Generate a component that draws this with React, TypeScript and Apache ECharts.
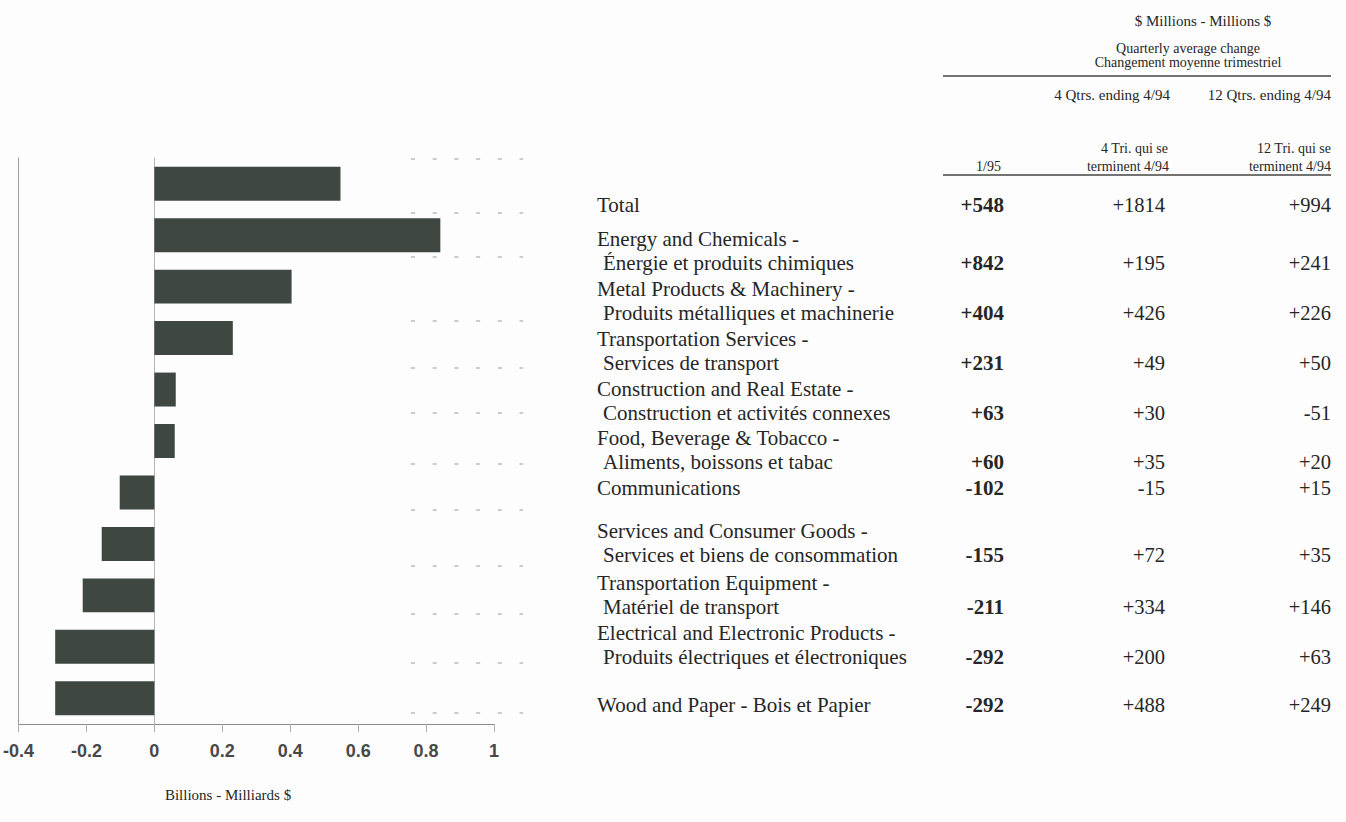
import React, { useEffect, useRef } from "react";
import * as echarts from "echarts";

// ---- Data ----
const labelLine1 = [
  "Total",
  "Energy and Chemicals -",
  "Metal Products & Machinery -",
  "Transportation Services -",
  "Construction and Real Estate -",
  "Food, Beverage & Tobacco -",
  "Communications",
  "Services and Consumer Goods -",
  "Transportation Equipment -",
  "Electrical and Electronic Products -",
  "Wood and Paper - Bois et Papier",
];
const labelLine2 = [
  "",
  "Énergie et produits chimiques",
  "Produits métalliques et machinerie",
  "Services de transport",
  "Construction et activités connexes",
  "Aliments, boissons et tabac",
  "",
  "Services et biens de consommation",
  "Matériel de transport",
  "Produits électriques et électroniques",
  "",
];
// $ millions
const change1_95 = [548, 842, 404, 231, 63, 60, -102, -155, -211, -292, -292];
const change4Q = [1814, 195, 426, 49, 30, 35, -15, 72, 334, 200, 488];
const change12Q = [994, 241, 226, 50, -51, 20, 15, 35, 146, 63, 249];

// x axis (billions)
const xMin = -0.4;
const xMax = 1;
const xStep = 0.2;

// ---- Layout (positions only) ----
const rowY = [205, 263, 313, 363, 413, 462, 488, 555, 607, 657, 705];
const leaderY = [159, 213, 257, 321, 368, 413, 464, 510, 566, 614, 663, 713];

const SERIF = "'Liberation Serif', 'Times New Roman', serif";
const SANS = "'Liberation Sans', Arial, sans-serif";
const TXT = "#262626";

const fmt = (v: number) => (v > 0 ? "+" + v : String(v));

export default function App() {
  const ref = useRef<HTMLDivElement>(null);

  useEffect(() => {
    if (!ref.current) return;
    const chart = echarts.init(ref.current, null, { renderer: "svg" });

    const elements: any[] = [];
    const text = (
      t: string,
      x: number,
      y: number,
      size: number,
      align: string,
      weight = "normal",
      family = SERIF
    ) => ({
      type: "text",
      x,
      y,
      silent: true,
      style: {
        text: t,
        fill: TXT,
        fontSize: size,
        fontFamily: family,
        fontWeight: weight,
        align,
        verticalAlign: "middle",
      },
    });

    // leader dashes
    leaderY.forEach((y) => {
      elements.push({
        type: "line",
        silent: true,
        shape: { x1: 411, y1: y, x2: 523, y2: y },
        style: { stroke: "#9a9a9a", lineWidth: 1.2, lineDash: [4, 17.7] },
      });
    });

    // axis title
    elements.push(text("Billions - Milliards $", 228, 795, 15, "center"));

    // table header
    elements.push(text("$ Millions - Millions $", 1203, 21, 15, "center"));
    elements.push(text("Quarterly average change", 1188, 48, 14, "center"));
    elements.push(text("Changement moyenne trimestriel", 1188, 62, 14, "center"));
    elements.push({
      type: "line",
      silent: true,
      shape: { x1: 943, y1: 76, x2: 1331, y2: 76 },
      style: { stroke: "#444", lineWidth: 1.5 },
    });
    elements.push(text("4 Qtrs. ending 4/94", 1170, 95, 15, "right"));
    elements.push(text("12 Qtrs. ending 4/94", 1331, 95, 15, "right"));
    elements.push(text("4 Tri. qui se", 1168, 148, 14, "right"));
    elements.push(text("12 Tri. qui se", 1331, 148, 14, "right"));
    elements.push(text("1/95", 1001, 166, 14, "right"));
    elements.push(text("terminent 4/94", 1169, 166, 14, "right"));
    elements.push(text("terminent 4/94", 1331, 166, 14, "right"));
    elements.push({
      type: "line",
      silent: true,
      shape: { x1: 943, y1: 175, x2: 1331, y2: 175 },
      style: { stroke: "#444", lineWidth: 1.5 },
    });

    // table rows
    rowY.forEach((y, i) => {
      if (labelLine2[i]) {
        elements.push(text(labelLine1[i], 597, y - 24, 21, "left"));
        elements.push(text(labelLine2[i], 603, y, 21, "left"));
      } else {
        elements.push(text(labelLine1[i], 597, y, 21, "left"));
      }
      elements.push(text(fmt(change1_95[i]), 1004, y, 21, "right", "bold"));
      elements.push(text(fmt(change4Q[i]), 1165, y, 20.5, "right"));
      elements.push(text(fmt(change12Q[i]), 1331, y, 20.5, "right"));
    });

    chart.setOption({
      animation: false,
      backgroundColor: "#fdfdfd",
      grid: { left: 14, top: 158, width: 480, height: 566 },
      xAxis: {
        type: "value",
        min: xMin,
        max: xMax,
        interval: xStep,
        axisLine: { show: true, onZero: false, lineStyle: { color: "#8a8a8a", width: 1.2 } },
        axisTick: { show: true, length: 8, lineStyle: { color: "#b0b0b0" } },
        splitLine: { show: false },
        axisLabel: {
          margin: 18,
          fontFamily: SANS,
          fontWeight: "bold",
          fontSize: 18,
          color: "#484848",
        },
      },
      yAxis: [
        {
          type: "category",
          data: labelLine1,
          inverse: true,
          axisLine: { show: true, onZero: true, lineStyle: { color: "#b5b5b5" } },
          axisTick: { show: false },
          axisLabel: { show: false },
          splitLine: { show: false },
        },
        {
          type: "category",
          data: labelLine1,
          inverse: true,
          position: "left",
          axisLine: { show: true, onZero: false, lineStyle: { color: "#9a9a9a" } },
          axisTick: { show: false },
          axisLabel: { show: false },
          splitLine: { show: false },
        },
      ],
      series: [
        {
          type: "bar",
          yAxisIndex: 0,
          data: change1_95.map((v) => v / 1000),
          barWidth: "66%",
          itemStyle: { color: "#3f4741" },
        },
      ],
      graphic: { elements },
    });

    return () => chart.dispose();
  }, []);

  return (
    <div
      ref={ref}
      style={{ position: "absolute", left: 0, top: 0, width: 1346, height: 822 }}
    />
  );
}
